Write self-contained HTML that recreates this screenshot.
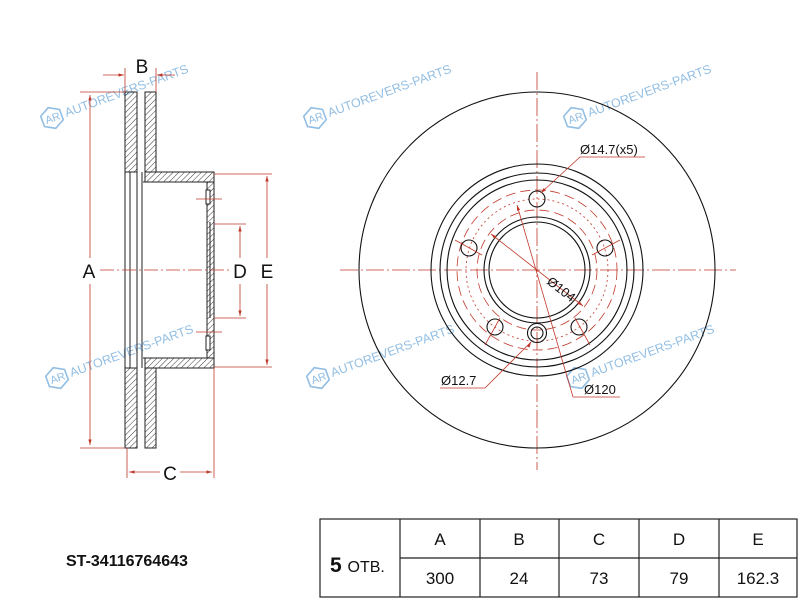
<!DOCTYPE html>
<html><head><meta charset="utf-8"><style>
html,body{margin:0;padding:0;background:#fff;width:800px;height:600px;overflow:hidden}
svg{display:block}
text{font-family:"Liberation Sans",sans-serif}
</style></head><body>
<svg width="800" height="600" viewBox="0 0 800 600" xmlns="http://www.w3.org/2000/svg">
<defs>
<pattern id="h" patternUnits="userSpaceOnUse" width="4" height="4" patternTransform="rotate(45)">
<line x1="0" y1="0" x2="0" y2="4" stroke="#222" stroke-width="0.9"/>
</pattern>
<marker id="ar" viewBox="0 0 10 10" refX="10" refY="5" markerWidth="7" markerHeight="7" orient="auto-start-reverse"><path d="M0,2 L10,5 L0,8 z" fill="#c0392b"/></marker>
<g id="wm" fill="none" stroke="#7fb3df" stroke-width="1.6" opacity="0.85">
<path d="M0,-11 L10,-5.5 L10,5.5 L0,11 L-10,5.5 L-10,-5.5 Z"/>
<text x="-7" y="4" font-size="11" fill="#7fb3df" stroke="none">AR</text>
<text x="14" y="4" font-size="12.5" fill="#7fb3df" stroke="none">AUTOREVERS-PARTS</text>
</g>
</defs>

<g transform="translate(52,118) rotate(-20)"><use href="#wm"/></g>
<g transform="translate(315,118) rotate(-20)"><use href="#wm"/></g>
<g transform="translate(575,118) rotate(-20)"><use href="#wm"/></g>
<g transform="translate(57,378) rotate(-20)"><use href="#wm"/></g>
<g transform="translate(318,378) rotate(-20)"><use href="#wm"/></g>
<g transform="translate(578,378) rotate(-20)"><use href="#wm"/></g>

<g stroke="#222" stroke-width="1" fill="url(#h)">
<rect x="125" y="92" width="12" height="80"/>
<rect x="145" y="92" width="11" height="80"/>
<rect x="125" y="368" width="12" height="80"/>
<rect x="145" y="368" width="11" height="80"/>
<rect x="145" y="172" width="69" height="10"/>
<rect x="145" y="358" width="69" height="10"/>
<rect x="207" y="182" width="7" height="176"/>
</g>
<g stroke="#222" stroke-width="1" fill="none">
<line x1="125" y1="172" x2="125" y2="368"/>
<line x1="130" y1="172" x2="130" y2="368"/>
<line x1="137" y1="172" x2="137" y2="368"/>
<line x1="142" y1="172" x2="142" y2="368"/>
<line x1="143" y1="182" x2="207" y2="182"/>
<line x1="143" y1="358" x2="207" y2="358"/>
<line x1="210" y1="222" x2="210" y2="318"/>
</g>
<rect x="206" y="190" width="4" height="14" fill="#fff" stroke="#222"/>
<rect x="206" y="336" width="4" height="14" fill="#fff" stroke="#222"/>
<g stroke="#c0392b" stroke-width="0.8" fill="none">
<line x1="100" y1="270" x2="230" y2="270" stroke-dasharray="14,3,2,3"/>
<line x1="80" y1="92" x2="125" y2="92"/>
<line x1="80" y1="448" x2="125" y2="448"/>
<line x1="90" y1="95" x2="90" y2="258" marker-start="url(#ar)"/>
<line x1="90" y1="284" x2="90" y2="445" marker-end="url(#ar)"/>
<line x1="125" y1="68" x2="125" y2="92"/>
<line x1="156" y1="68" x2="156" y2="92"/>
<line x1="103" y1="75" x2="124" y2="75" marker-end="url(#ar)"/>
<line x1="175" y1="75" x2="157" y2="75" marker-end="url(#ar)"/>
<line x1="127" y1="448" x2="127" y2="478"/>
<line x1="214" y1="368" x2="214" y2="478"/>
<line x1="129" y1="472" x2="160" y2="472" marker-start="url(#ar)"/>
<line x1="180" y1="472" x2="212" y2="472" marker-end="url(#ar)"/>
<line x1="214" y1="224" x2="246" y2="224"/>
<line x1="214" y1="318" x2="246" y2="318"/>
<line x1="240" y1="226" x2="240" y2="258" marker-start="url(#ar)"/>
<line x1="240" y1="284" x2="240" y2="316" marker-end="url(#ar)"/>
<line x1="214" y1="174" x2="272" y2="174"/>
<line x1="214" y1="367" x2="272" y2="367"/>
<line x1="267" y1="176" x2="267" y2="258" marker-start="url(#ar)"/>
<line x1="267" y1="284" x2="267" y2="365" marker-end="url(#ar)"/>
<line x1="196" y1="199" x2="222" y2="199"/>
<line x1="196" y1="332" x2="222" y2="332"/>
</g>
<g font-size="19" fill="#111" text-anchor="middle">
<text x="89" y="278">A</text>
<text x="142" y="73">B</text>
<text x="170" y="480">C</text>
<text x="240" y="278">D</text>
<text x="267" y="278">E</text>
</g>

<g stroke="#c0392b" stroke-width="0.8" fill="none">
<line x1="340" y1="270" x2="736" y2="270" stroke-dasharray="18,3,2,3"/>
<line x1="537" y1="72" x2="537" y2="470" stroke-dasharray="18,3,2,3"/>
<circle cx="537" cy="270" r="80" stroke-dasharray="10,5"/>
<circle cx="537" cy="270" r="60" stroke-dasharray="10,5"/>
<circle cx="537" cy="270" r="71" stroke-dasharray="2,3"/>
</g>
<g stroke="#111" stroke-width="1.1" fill="none">
<circle cx="537" cy="270" r="178"/>
<circle cx="537" cy="270" r="106"/>
<circle cx="537" cy="270" r="97"/>
<circle cx="537" cy="270" r="90"/>
<circle cx="537" cy="270" r="53"/>
<circle cx="537" cy="270" r="48"/>
<circle cx="537" cy="199" r="8"/>
<circle cx="605" cy="248" r="8"/>
<circle cx="469" cy="248" r="8"/>
<circle cx="495" cy="327" r="8"/>
<circle cx="579" cy="327" r="8"/>
<circle cx="537" cy="333" r="9.5"/>
<circle cx="537" cy="333" r="6"/>
</g>
<g stroke="#c0392b" stroke-width="0.8" fill="none">
<line x1="455" y1="240" x2="482" y2="255"/><line x1="592" y1="255" x2="620" y2="240"/>
<line x1="485" y1="345" x2="500" y2="318"/><line x1="575" y1="318" x2="590" y2="345"/>
<polyline points="543,191 580,157 645,157" />
<line x1="543" y1="191" x2="541" y2="193" marker-end="url(#ar)"/>
<line x1="491" y1="234" x2="583" y2="306" marker-start="url(#ar)" marker-end="url(#ar)"/>
<line x1="517" y1="205" x2="573" y2="397" marker-start="url(#ar)"/>
<polyline points="573,397 620,397"/>
<polyline points="531,342 485,388 440,388"/>
<line x1="528" y1="347" x2="531" y2="342" marker-end="url(#ar)"/>
</g>
<g font-size="13" fill="#111">
<text x="580" y="154">Ø14.7(x5)</text>
<text x="546" y="283" transform="rotate(38 546 283)">Ø104</text>
<text x="441" y="385">Ø12.7</text>
<text x="584" y="394">Ø120</text>
</g>

<text x="66" y="566" font-size="16" font-weight="bold" fill="#111">ST-34116764643</text>

<g stroke="#222" stroke-width="1.2" fill="none">
<rect x="320" y="519" width="477" height="78"/>
<line x1="400" y1="519" x2="400" y2="597"/>
<line x1="480" y1="519" x2="480" y2="597"/>
<line x1="559" y1="519" x2="559" y2="597"/>
<line x1="639" y1="519" x2="639" y2="597"/>
<line x1="719" y1="519" x2="719" y2="597"/>
<line x1="400" y1="558" x2="797" y2="558"/>
</g>
<text x="330" y="572" font-size="21" font-weight="bold" fill="#111">5 <tspan font-size="16" font-weight="normal">ОТВ.</tspan></text>
<g font-size="17" fill="#111" text-anchor="middle">
<text x="440" y="545">A</text><text x="519" y="545">B</text><text x="599" y="545">C</text><text x="679" y="545">D</text><text x="758" y="545">E</text>
<text x="440" y="584">300</text><text x="519" y="584">24</text><text x="599" y="584">73</text><text x="679" y="584">79</text><text x="758" y="584">162.3</text>
</g>
</svg>
</body></html>
